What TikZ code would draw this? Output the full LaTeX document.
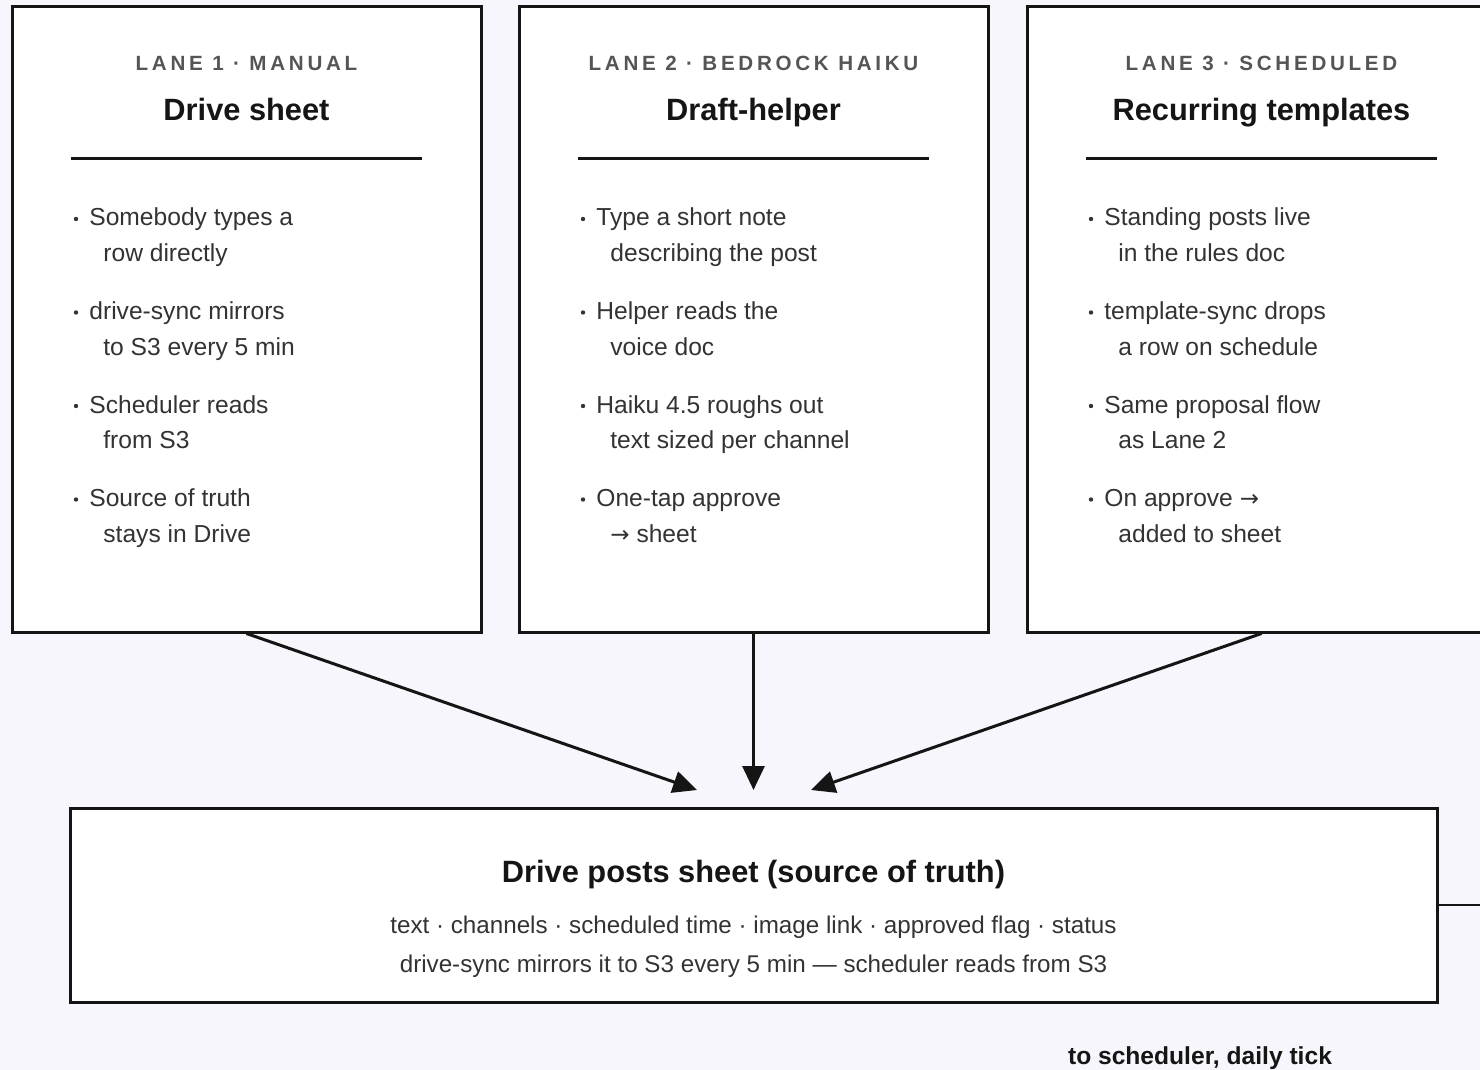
\documentclass[tikz,border=0pt]{standalone}
\usepackage{fontspec}
\setmainfont{Liberation Sans}
\newfontfamily\arrowfont{DejaVu Sans}
\usetikzlibrary{arrows.meta,positioning}

\definecolor{bgcol}{HTML}{F7F6FC}
\definecolor{inkcol}{HTML}{151515}
\definecolor{greycol}{HTML}{555555}
\definecolor{textcol}{HTML}{333333}

\newcommand{\rarr}{{\arrowfont\fontsize{11.5}{12}\selectfont →}}

\tikzset{
  lanebox/.style={draw=inkcol,line width=1.5pt,fill=white,inner sep=0pt,
    minimum width=234.5pt,minimum height=312.5pt},
  sheetbox/.style={draw=inkcol,line width=1.5pt,fill=white,inner sep=0pt,
    minimum width=683.5pt,minimum height=97pt},
  lanelabel/.style={anchor=base,inner sep=0pt,text=greycol,
    font=\bfseries\fontsize{10.3}{12}\selectfont\addfontfeatures{LetterSpace=18}},
  lanetitle/.style={anchor=base,inner sep=0pt,text=inkcol,
    font=\bfseries\fontsize{15.4}{18}\selectfont},
  item/.style={anchor=base west,inner sep=0pt,text=textcol,
    font=\fontsize{12.3}{14}\selectfont},
  dot/.style={circle,fill=textcol,inner sep=0pt,minimum size=2.2pt},
  rule/.style={draw=inkcol,line width=1.5pt},
  flow/.style={draw=inkcol,line width=1.5pt,-{Triangle[length=12pt,width=11pt]}},
  wire/.style={draw=inkcol,line width=1pt},
  sheetline/.style={anchor=base,inner sep=0pt,text=textcol,
    font=\fontsize{12.1}{14}\selectfont},
}

\begin{document}
\begin{tikzpicture}[x=0.5pt,y=-0.5pt]

  \useasboundingbox (0,0) rectangle (1480,1070);
  \fill[bgcol] (0,0) rectangle (1480,1070);
  \clip (0,0) rectangle (1480,1070);

  % the three lanes
  \node[lanebox] (lane1) at (246.5,319.5)  {};
  \node[lanebox] (lane2) at (753.5,319.5)  {};
  \node[lanebox] (lane3) at (1261.5,319.5) {};

  \node[lanelabel] (lab1) at (246.5,71)  {LANE 1 · MANUAL};
  \node[lanelabel] (lab2) at (753.5,71)  {LANE 2 · BEDROCK HAIKU};
  \node[lanelabel] (lab3) at (1261.5,71) {LANE 3 · SCHEDULED};

  \node[lanetitle] (tit1) at (246.5,121)  {Drive sheet};
  \node[lanetitle] (tit2) at (753.5,121)  {Draft-helper};
  \node[lanetitle] (tit3) at (1261.5,121) {Recurring templates};

  \draw[rule] (71,159)   -- (422,159);
  \draw[rule] (578,159)  -- (929,159);
  \draw[rule] (1086,159) -- (1437,159);

  % bullets
  \foreach \a/\b [count=\i from 0] in {Somebody types a/row directly,
      drive-sync mirrors/to S3 every 5 min,
      Scheduler reads/from S3,
      Source of truth/stays in Drive} {
    \node[dot]  (d1\i) at (76,{219+93.5*\i})   {};
    \node[item] (p1\i) at (89,{226+93.5*\i})   {\a};
    \node[item] (q1\i) at (103,{261.5+93.5*\i}) {\b};
  }
  \foreach \a/\b [count=\i from 0] in {Type a short note/describing the post,
      Helper reads the/voice doc,
      Haiku 4.5 roughs out/text sized per channel,
      One-tap approve/\rarr\ sheet} {
    \node[dot]  (d2\i) at (583,{219+93.5*\i})   {};
    \node[item] (p2\i) at (596,{226+93.5*\i})   {\a};
    \node[item] (q2\i) at (610,{261.5+93.5*\i}) {\b};
  }
  \foreach \a/\b [count=\i from 0] in {Standing posts live/in the rules doc,
      template-sync drops/a row on schedule,
      Same proposal flow/as Lane 2,
      On approve \rarr/added to sheet} {
    \node[dot]  (d3\i) at (1091,{219+93.5*\i})   {};
    \node[item] (p3\i) at (1104,{226+93.5*\i})   {\a};
    \node[item] (q3\i) at (1118,{261.5+93.5*\i}) {\b};
  }

  % the sheet
  \node[sheetbox] (sheet) at (753.5,905) {};
  \node[lanetitle] (stit) at (753.5,882) {Drive posts sheet (source of truth)};
  \node[sheetline] (sl1) at (753.5,933)
    {text · channels · scheduled time · image link · approved flag · status};
  \node[sheetline] (sl2) at (753.5,972)
    {drive-sync mirrors it to S3 every 5 min — scheduler reads from S3};

  \coordinate (in1) at (697,790);
  \coordinate (in2) at (753.5,790);
  \coordinate (in3) at (811,790);
  \draw[flow] (lane1.south) -- (in1);
  \draw[flow] (lane2.south) -- (in2);
  \draw[flow] (lane3.south) -- (in3);

  \coordinate (out) at (1500,905);
  \draw[wire] (sheet.east) -- (out);

  \node[anchor=base,inner sep=0pt,text=inkcol,font=\bfseries\fontsize{12.3}{14}\selectfont]
    (tick) at (1200,1064) {to scheduler, daily tick};

\end{tikzpicture}
\end{document}
